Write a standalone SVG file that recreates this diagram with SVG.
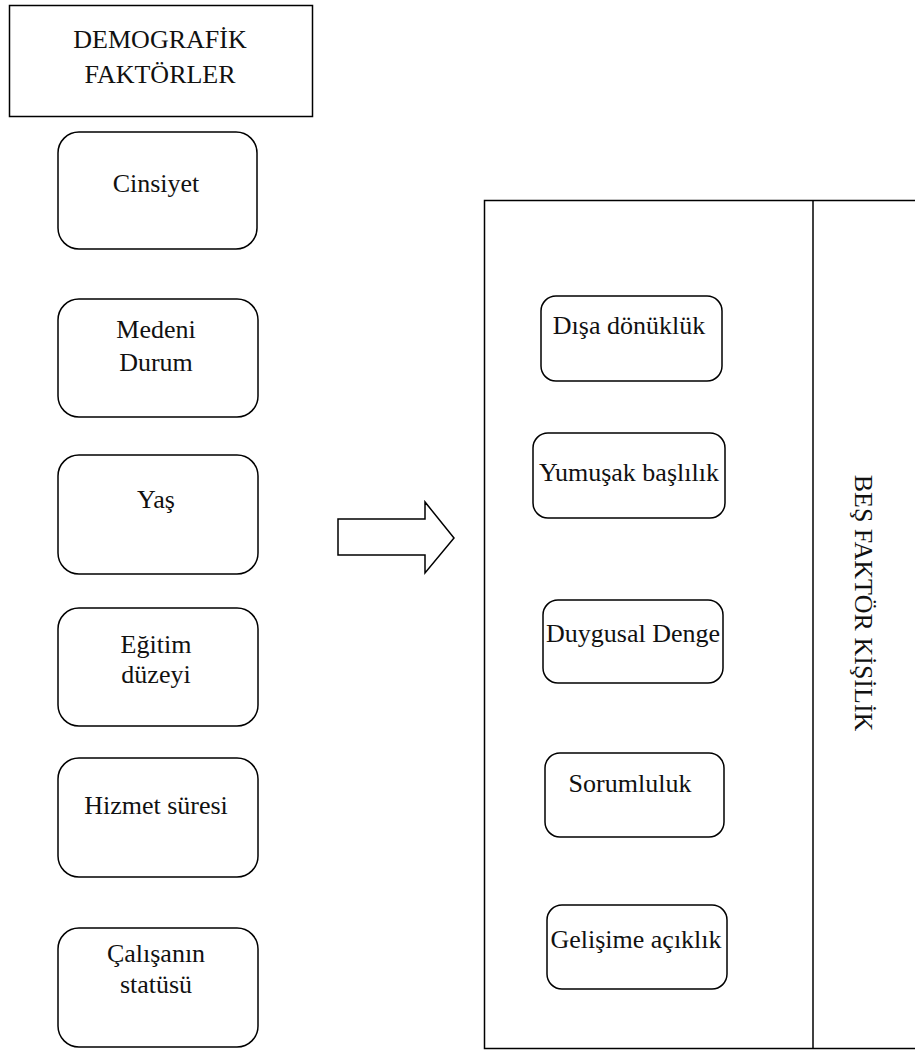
<svg xmlns="http://www.w3.org/2000/svg" width="915" height="1050" viewBox="0 0 915 1050">
<style>
  .box { fill: #fff; stroke: #000; stroke-width: 1.5; }
  .t { font-family: "Liberation Serif", "Times New Roman", serif; font-size: 26px; fill: #111; text-anchor: middle; }
</style>
<rect width="915" height="1050" fill="#fff"/>
<g id="header">
  <rect class="box" x="9.5" y="5.5" width="303" height="111"/>
  <text class="t" x="160" y="48">DEMOGRAFİK</text>
  <text class="t" x="160" y="83">FAKTÖRLER</text>
</g>
<g id="cinsiyet">
  <rect class="box" x="58" y="132" width="199" height="117" rx="21"/>
  <text class="t" x="156" y="192">Cinsiyet</text>
</g>
<g id="medeni">
  <rect class="box" x="58" y="299" width="200" height="118" rx="21"/>
  <text class="t" x="156" y="338">Medeni</text>
  <text class="t" x="156" y="371">Durum</text>
</g>
<g id="yas">
  <rect class="box" x="58" y="455" width="200" height="119" rx="21"/>
  <text class="t" x="156" y="508">Yaş</text>
</g>
<g id="egitim">
  <rect class="box" x="58" y="608" width="200" height="118" rx="21"/>
  <text class="t" x="156" y="653">Eğitim</text>
  <text class="t" x="156" y="683">düzeyi</text>
</g>
<g id="hizmet">
  <rect class="box" x="58" y="758" width="200" height="119" rx="21"/>
  <text class="t" x="156" y="814">Hizmet süresi</text>
</g>
<g id="calisan">
  <rect class="box" x="58" y="928" width="200" height="119" rx="21"/>
  <text class="t" x="156" y="962">Çalışanın</text>
  <text class="t" x="156" y="993">statüsü</text>
</g>
<g id="connectors">
  <polygon class="box" points="338,519 425,519 425,502 454,538 425,573 425,555 338,555"/>
</g>
<g id="bes-faktor">
  <rect class="box" x="484.5" y="200.5" width="440" height="848"/>
  <line x1="813" y1="200" x2="813" y2="1049" stroke="#000" stroke-width="1.5"/>
  <text class="t" transform="translate(855,603) rotate(90)">BEŞ FAKTÖR KİŞİLİK</text>
</g>
<g id="disa">
  <rect class="box" x="541" y="296" width="181" height="85" rx="15"/>
  <text class="t" x="629" y="334">Dışa dönüklük</text>
</g>
<g id="yumusak">
  <rect class="box" x="533" y="433" width="192" height="85" rx="15"/>
  <text class="t" x="629" y="481">Yumuşak başlılık</text>
</g>
<g id="duygusal">
  <rect class="box" x="543" y="600" width="180" height="83" rx="15"/>
  <text class="t" x="633" y="642">Duygusal Denge</text>
</g>
<g id="sorumluluk">
  <rect class="box" x="545" y="753" width="179" height="84" rx="15"/>
  <text class="t" x="630" y="792">Sorumluluk</text>
</g>
<g id="gelisime">
  <rect class="box" x="547" y="905" width="180" height="84" rx="15"/>
  <text class="t" x="636" y="948">Gelişime açıklık</text>
</g>
</svg>
